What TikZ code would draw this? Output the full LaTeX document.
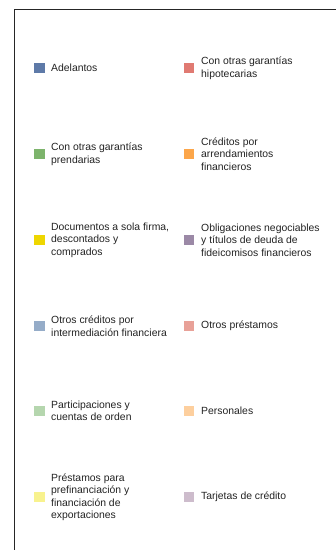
\documentclass[tikz,border=0pt]{standalone}
\usepackage{fontspec}
\setmainfont{Liberation Sans}
\definecolor{cA}{HTML}{5E7AA8}
\definecolor{cB}{HTML}{E07A72}
\definecolor{cC}{HTML}{7DB46C}
\definecolor{cD}{HTML}{FCA64A}
\definecolor{cE}{HTML}{EED600}
\definecolor{cF}{HTML}{9B89A6}
\definecolor{cG}{HTML}{95ACC8}
\definecolor{cH}{HTML}{E8A198}
\definecolor{cI}{HTML}{B5D6AE}
\definecolor{cJ}{HTML}{FDCF9E}
\definecolor{cK}{HTML}{F8F28E}
\definecolor{cL}{HTML}{CDBCCC}
\definecolor{txt}{HTML}{222222}
\tikzset{
  swatch/.style={fill=#1, draw=none, minimum width=10.5pt, minimum height=10pt, inner sep=0pt, anchor=center},
  legtext/.style={anchor=west, inner sep=0pt, align=left, text=txt,
    font=\fontsize{10.4pt}{12.5pt}\selectfont},
  frameline/.style={draw=black!85, line width=0.9pt}
}
\begin{document}
\begin{tikzpicture}[x=1pt,y=-1pt]
\useasboundingbox (0,0) rectangle (336,550);
\begin{scope}
\clip (0,0) rectangle (336,550);
\draw[frameline] (14,9) rectangle (345,560);
\end{scope}
% left column
\node[swatch=cA] (s1) at (39.5,68) {};
\node[legtext] (t1) at (51,68) {Adelantos};
\node[swatch=cC] (s3) at (39.5,154) {};
\node[legtext] (t3) at (51,154) {Con otras garantías\\prendarias};
\node[swatch=cE] (s5) at (39.5,240) {};
\node[legtext] (t5) at (51,240) {Documentos a sola firma,\\descontados y\\comprados};
\node[swatch=cG] (s7) at (39.5,326) {};
\node[legtext] (t7) at (51,326) {Otros créditos por\\intermediación financiera};
\node[swatch=cI] (s9) at (39.5,411) {};
\node[legtext] (t9) at (51,411) {Participaciones y\\cuentas de orden};
\node[swatch=cK] (s11) at (39.5,497) {};
\node[legtext] (t11) at (51,497) {Préstamos para\\prefinanciación y\\financiación de\\exportaciones};
% right column
\node[swatch=cB] (s2) at (189,68) {};
\node[legtext] (t2) at (201,68) {Con otras garantías\\hipotecarias};
\node[swatch=cD] (s4) at (189,154) {};
\node[legtext] (t4) at (201,154) {Créditos por\\arrendamientos\\financieros};
\node[swatch=cF] (s6) at (189,240) {};
\node[legtext] (t6) at (201,240) {Obligaciones negociables\\y títulos de deuda de\\fideicomisos financieros};
\node[swatch=cH] (s8) at (189,326) {};
\node[legtext] (t8) at (201,326) {Otros préstamos};
\node[swatch=cJ] (s10) at (189,411) {};
\node[legtext] (t10) at (201,411) {Personales};
\node[swatch=cL] (s12) at (189,497) {};
\node[legtext] (t12) at (201,497) {Tarjetas de crédito};
\end{tikzpicture}
\end{document}
